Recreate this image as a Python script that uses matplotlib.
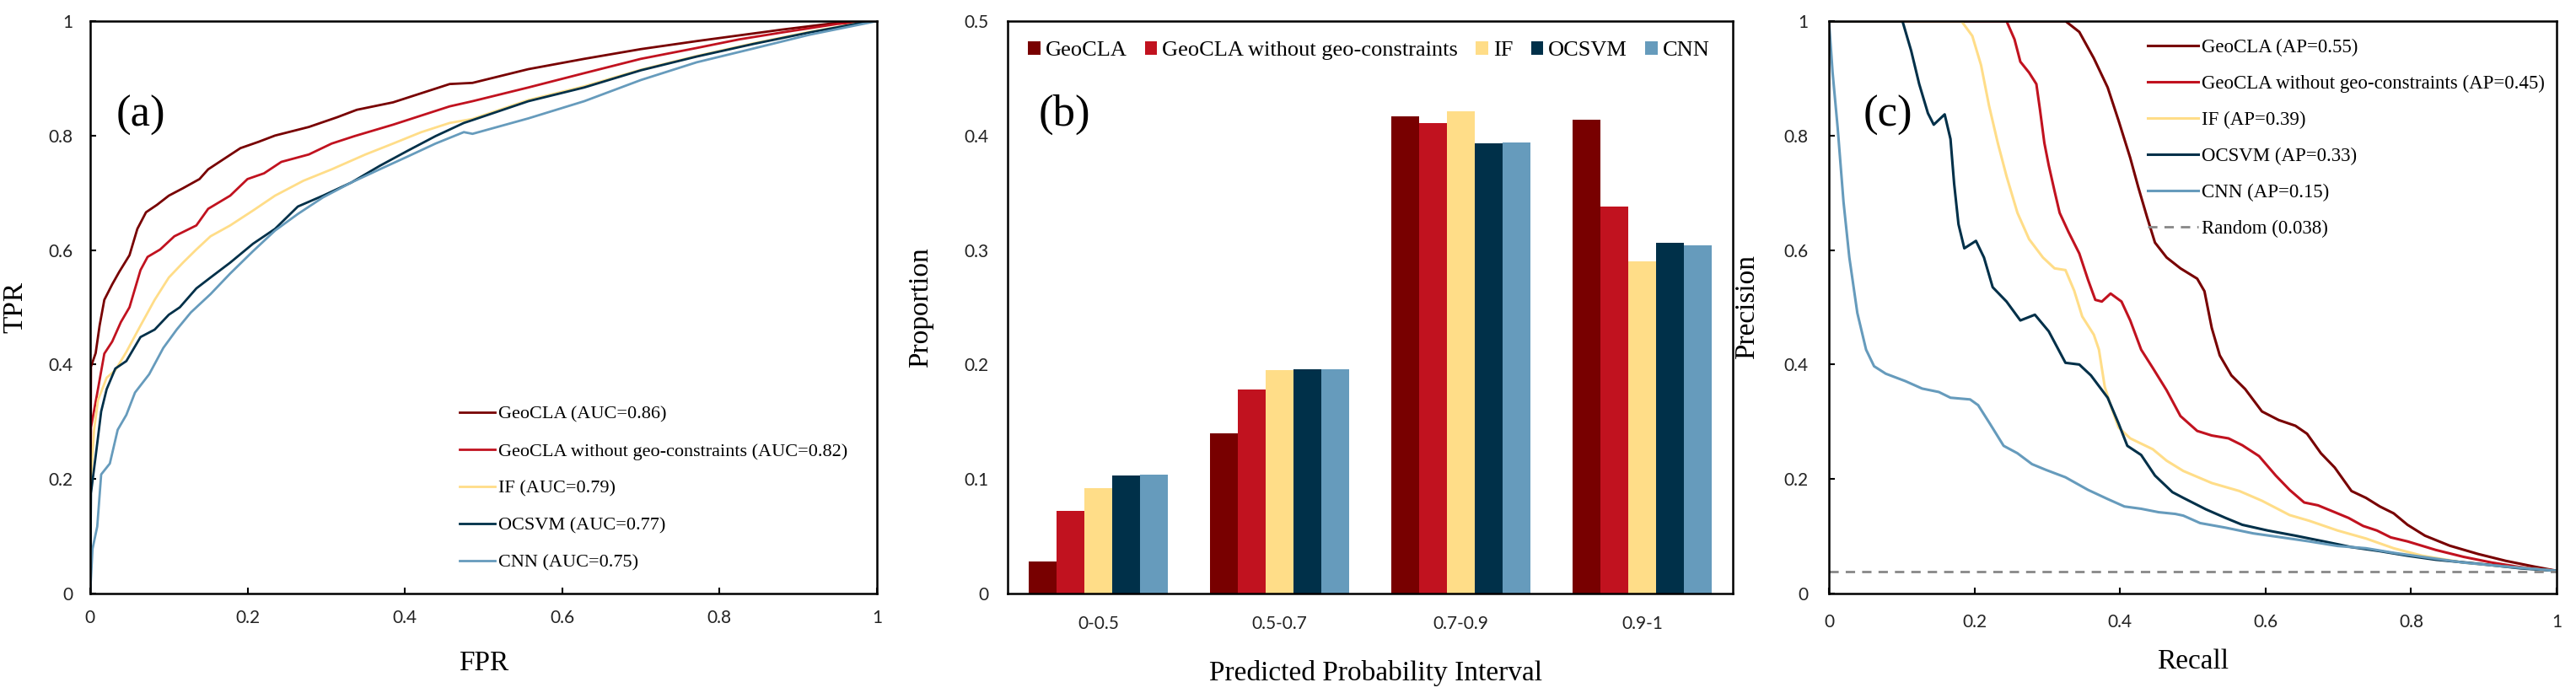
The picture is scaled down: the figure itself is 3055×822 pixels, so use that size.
#
# ROC / probability-interval / PR comparison figure
#

import numpy as np
import matplotlib
matplotlib.use("Agg")
import matplotlib.pyplot as plt

# Colours for the five models
colors = ["#780000", "#C1121F", "#FFDD88", "#003049", "#669BBC"]
models = ["GeoCLA", "GeoCLA without geo-constraints", "IF", "OCSVM", "CNN"]
auc = ["0.86", "0.82", "0.79", "0.77", "0.75"]
ap = ["0.55", "0.45", "0.39", "0.33", "0.15"]
random_ap = 0.038

# ---- (a) ROC curves ----
fpr_geocla = [0, 0.001, 0.007, 0.012, 0.018, 0.028, 0.037, 0.050, 0.060, 0.071, 0.085, 0.10, 0.118,
              0.139, 0.15, 0.171, 0.191, 0.214, 0.235, 0.278, 0.314, 0.339, 0.385, 0.421, 0.457,
              0.486, 0.557, 0.628, 0.700, 0.771, 0.825, 0.879, 0.950, 0.983, 1.0]
tpr_geocla = [0, 0.396, 0.42, 0.468, 0.513, 0.54, 0.562, 0.591, 0.637, 0.666, 0.679, 0.695, 0.708,
              0.724, 0.741, 0.760, 0.778, 0.789, 0.80, 0.815, 0.832, 0.845, 0.858, 0.874, 0.89,
              0.892, 0.916, 0.934, 0.951, 0.965, 0.975, 0.985, 0.997, 1.0, 1.0]

fpr_nogeo = [0, 0.001, 0.009, 0.018, 0.028, 0.039, 0.050, 0.064, 0.073, 0.089, 0.107, 0.135, 0.15,
             0.178, 0.2, 0.221, 0.243, 0.278, 0.307, 0.336, 0.385, 0.421, 0.457, 0.486, 0.557,
             0.628, 0.700, 0.771, 0.825, 0.879, 0.950, 1.0]
tpr_nogeo = [0, 0.29, 0.35, 0.419, 0.44, 0.474, 0.50, 0.565, 0.588, 0.601, 0.624, 0.643, 0.672,
             0.695, 0.724, 0.734, 0.754, 0.767, 0.786, 0.799, 0.819, 0.835, 0.851, 0.860, 0.884,
             0.909, 0.934, 0.953, 0.968, 0.980, 0.995, 1.0]

fpr_if = [0, 0.0, 0.005, 0.010, 0.021, 0.032, 0.046, 0.064, 0.082, 0.10, 0.118, 0.135, 0.153,
          0.178, 0.207, 0.235, 0.271, 0.307, 0.35, 0.385, 0.421, 0.457, 0.486, 0.557, 0.628,
          0.700, 0.771, 0.843, 0.914, 0.989, 1.0]
tpr_if = [0, 0.18, 0.286, 0.338, 0.377, 0.39, 0.422, 0.468, 0.513, 0.552, 0.578, 0.601, 0.624,
          0.643, 0.669, 0.695, 0.721, 0.741, 0.767, 0.786, 0.806, 0.822, 0.829, 0.862, 0.886,
          0.915, 0.939, 0.961, 0.981, 0.999, 1.0]

fpr_ocsvm = [0, 0.001, 0.007, 0.014, 0.021, 0.032, 0.046, 0.064, 0.082, 0.10, 0.114, 0.135, 0.153,
             0.178, 0.207, 0.235, 0.264, 0.296, 0.332, 0.368, 0.403, 0.439, 0.475, 0.486, 0.557,
             0.628, 0.700, 0.771, 0.843, 0.914, 0.989, 1.0]
tpr_ocsvm = [0, 0.175, 0.24, 0.318, 0.357, 0.393, 0.406, 0.448, 0.461, 0.487, 0.50, 0.533, 0.552,
             0.578, 0.611, 0.637, 0.676, 0.695, 0.718, 0.747, 0.773, 0.799, 0.822, 0.827, 0.860,
             0.884, 0.914, 0.938, 0.960, 0.980, 0.999, 1.0]

fpr_cnn = [0, 0.003, 0.009, 0.014, 0.025, 0.035, 0.046, 0.057, 0.075, 0.093, 0.110, 0.128, 0.153,
           0.178, 0.207, 0.235, 0.264, 0.296, 0.332, 0.368, 0.403, 0.439, 0.475, 0.486, 0.557,
           0.628, 0.700, 0.771, 0.843, 0.914, 0.993, 1.0]
tpr_cnn = [0, 0.078, 0.117, 0.208, 0.227, 0.286, 0.312, 0.351, 0.383, 0.429, 0.461, 0.491, 0.523,
           0.559, 0.598, 0.634, 0.663, 0.692, 0.718, 0.741, 0.763, 0.786, 0.806, 0.803, 0.830,
           0.860, 0.897, 0.928, 0.952, 0.976, 0.998, 1.0]

# ---- (b) proportion per predicted probability interval ----
intervals = ["0-0.5", "0.5-0.7", "0.7-0.9", "0.9-1"]
prop_geocla = [0.028, 0.140, 0.417, 0.414]
prop_nogeo = [0.072, 0.178, 0.411, 0.338]
prop_if = [0.092, 0.195, 0.421, 0.290]
prop_ocsvm = [0.103, 0.196, 0.393, 0.306]
prop_cnn = [0.104, 0.196, 0.394, 0.304]

# ---- (c) precision-recall curves ----
rec_geocla = [0, 0.325, 0.344, 0.364, 0.383, 0.398, 0.414, 0.425, 0.437, 0.448, 0.464, 0.483, 0.506,
              0.516, 0.526, 0.537, 0.553, 0.572, 0.595, 0.618, 0.641, 0.657, 0.676, 0.695, 0.718,
              0.738, 0.757, 0.776, 0.795, 0.819, 0.853, 0.892, 0.930, 0.969, 1.0]
pre_geocla = [1.0, 1.0, 0.981, 0.935, 0.884, 0.826, 0.761, 0.710, 0.658, 0.613, 0.587, 0.568, 0.550,
              0.528, 0.464, 0.416, 0.381, 0.357, 0.318, 0.303, 0.293, 0.279, 0.245, 0.220, 0.179,
              0.167, 0.152, 0.140, 0.120, 0.101, 0.0835, 0.069, 0.057, 0.047, 0.0396]

rec_nogeo = [0, 0.244, 0.255, 0.263, 0.275, 0.285, 0.290, 0.296, 0.302, 0.310, 0.317, 0.329, 0.344,
             0.356, 0.366, 0.375, 0.387, 0.402, 0.414, 0.429, 0.445, 0.464, 0.483, 0.506, 0.526,
             0.549, 0.568, 0.591, 0.614, 0.633, 0.653, 0.672, 0.695, 0.714, 0.734, 0.753, 0.772,
             0.795, 0.834, 0.872, 0.911, 0.950, 1.0]
pre_nogeo = [1.0, 1.0, 0.968, 0.929, 0.910, 0.890, 0.845, 0.787, 0.748, 0.703, 0.665, 0.632, 0.594,
             0.548, 0.513, 0.510, 0.524, 0.510, 0.477, 0.426, 0.394, 0.355, 0.310, 0.284, 0.276,
             0.271, 0.259, 0.240, 0.206, 0.181, 0.159, 0.154, 0.142, 0.132, 0.118, 0.110, 0.098,
             0.091, 0.076, 0.064, 0.054, 0.046, 0.0396]

rec_if = [0, 0.182, 0.197, 0.209, 0.220, 0.232, 0.244, 0.259, 0.275, 0.294, 0.310, 0.325, 0.337,
          0.348, 0.364, 0.371, 0.379, 0.387, 0.398, 0.414, 0.445, 0.464, 0.487, 0.526, 0.564,
          0.595, 0.633, 0.660, 0.699, 0.738, 0.776, 0.815, 0.872, 0.930, 1.0]
pre_if = [1.0, 1.0, 0.974, 0.923, 0.852, 0.787, 0.729, 0.665, 0.619, 0.587, 0.568, 0.565, 0.529,
          0.484, 0.452, 0.426, 0.361, 0.329, 0.290, 0.271, 0.252, 0.232, 0.214, 0.193, 0.179,
          0.162, 0.137, 0.127, 0.110, 0.096, 0.079, 0.066, 0.054, 0.047, 0.0396]

rec_ocsvm = [0, 0.101, 0.113, 0.124, 0.136, 0.144, 0.159, 0.167, 0.172, 0.178, 0.186, 0.202, 0.213,
             0.225, 0.244, 0.263, 0.283, 0.302, 0.325, 0.344, 0.360, 0.383, 0.398, 0.410, 0.429,
             0.448, 0.472, 0.487, 0.518, 0.545, 0.568, 0.603, 0.641, 0.680, 0.718, 0.757, 0.795,
             0.834, 0.892, 0.950, 1.0]
pre_ocsvm = [1.0, 1.0, 0.948, 0.890, 0.839, 0.819, 0.837, 0.794, 0.716, 0.645, 0.603, 0.616, 0.587,
             0.535, 0.510, 0.477, 0.487, 0.458, 0.403, 0.400, 0.381, 0.342, 0.297, 0.258, 0.242,
             0.206, 0.177, 0.167, 0.147, 0.132, 0.120, 0.110, 0.101, 0.091, 0.081, 0.074, 0.066,
             0.059, 0.052, 0.044, 0.0396]

rec_cnn = [0, 0.005, 0.012, 0.020, 0.028, 0.039, 0.051, 0.062, 0.078, 0.105, 0.128, 0.151, 0.167,
           0.194, 0.205, 0.221, 0.240, 0.259, 0.279, 0.298, 0.325, 0.356, 0.383, 0.406, 0.429,
           0.453, 0.476, 0.487, 0.510, 0.545, 0.583, 0.622, 0.660, 0.699, 0.738, 0.776, 0.815,
           0.872, 0.930, 1.0]
pre_cnn = [1.0, 0.910, 0.813, 0.684, 0.587, 0.490, 0.426, 0.397, 0.384, 0.371, 0.358, 0.352, 0.342,
           0.339, 0.329, 0.297, 0.258, 0.245, 0.226, 0.216, 0.203, 0.181, 0.165, 0.152, 0.148,
           0.142, 0.139, 0.136, 0.123, 0.115, 0.105, 0.098, 0.091, 0.083, 0.079, 0.071, 0.064,
           0.054, 0.047, 0.0396]

roc_x = [fpr_geocla, fpr_nogeo, fpr_if, fpr_ocsvm, fpr_cnn]
roc_y = [tpr_geocla, tpr_nogeo, tpr_if, tpr_ocsvm, tpr_cnn]
props = [prop_geocla, prop_nogeo, prop_if, prop_ocsvm, prop_cnn]
pr_x = [rec_geocla, rec_nogeo, rec_if, rec_ocsvm, rec_cnn]
pr_y = [pre_geocla, pre_nogeo, pre_if, pre_ocsvm, pre_cnn]

serif = "Liberation Serif"
sans = ["Lato", "DejaVu Sans"]
tick_fs = 15

fig = plt.figure(figsize=(30.55, 8.22), dpi=100)
ax_a = fig.add_axes([0.0350, 0.1436, 0.3054, 0.8260])
ax_b = fig.add_axes([0.3912, 0.1436, 0.2815, 0.8260])
ax_c = fig.add_axes([0.7100, 0.1436, 0.2825, 0.8260])


def style_axes(ax, xpad, ypad, ticklen):
    for sp in ax.spines.values():
        sp.set_linewidth(1.8)
        sp.set_color("black")
    ax.tick_params(direction="in", length=ticklen, width=1.5, labelsize=tick_fs)
    ax.tick_params(axis="x", pad=xpad)
    ax.tick_params(axis="y", pad=ypad)
    for lab in ax.get_xticklabels() + ax.get_yticklabels():
        lab.set_family(sans)
        lab.set_color("#222222")


ticks01 = [0, 0.2, 0.4, 0.6, 0.8, 1]
ticks01_lab = ["0", "0.2", "0.4", "0.6", "0.8", "1"]

# Plotting (a)
for i in range(5):
    ax_a.plot(roc_x[i], roc_y[i], color=colors[i], lw=2.0,
              label=models[i] + " (AUC=" + auc[i] + ")")
ax_a.set_xlim(0, 1)
ax_a.set_ylim(0, 1)
ax_a.set_xticks(ticks01, ticks01_lab)
ax_a.set_yticks(ticks01, ticks01_lab)
style_axes(ax_a, 14, 15, 5)
ax_a.set_xlabel("FPR", fontsize=24, family=serif)
ax_a.set_ylabel("TPR", fontsize=24, family=serif)
ax_a.xaxis.set_label_coords(0.5, -0.10)
ax_a.yaxis.set_label_coords(-0.079, 0.5)
ax_a.text(0.064, 0.835, "(a)", transform=ax_a.transAxes, fontsize=38, family=serif,
          ha="center", va="center")
ax_a.legend(loc="upper left", bbox_to_anchor=(0.469, 0.328), frameon=False,
            prop={"family": serif, "size": 16}, borderpad=0, borderaxespad=0,
            handlelength=1.9, handletextpad=0.2, labelspacing=1.05)

# Plotting (b)
x = np.arange(len(intervals))
bw = 0.154
for i in range(5):
    ax_b.bar(x + (i - 2) * bw, props[i], width=bw, color=colors[i], label=models[i])
ax_b.set_xlim(-0.5, 3.5)
ax_b.set_ylim(0, 0.5)
ax_b.set_xticks(x, intervals)
ax_b.set_yticks([0, 0.1, 0.2, 0.3, 0.4, 0.5], ["0", "0.1", "0.2", "0.3", "0.4", "0.5"])
style_axes(ax_b, 19, 16, 0)
ax_b.set_xlabel("Predicted Probability Interval", fontsize=24, family=serif)
ax_b.set_ylabel("Proportion", fontsize=24, family=serif)
ax_b.xaxis.set_label_coords(0.507, -0.116)
ax_b.yaxis.set_label_coords(-0.102, 0.5)
ax_b.text(0.078, 0.836, "(b)", transform=ax_b.transAxes, fontsize=38, family=serif,
          ha="center", va="center")
ax_b.legend(loc="center left", bbox_to_anchor=(0.028, 0.948), frameon=False, ncol=5,
            prop={"family": serif, "size": 19}, borderpad=0, borderaxespad=0,
            handlelength=0.55, handleheight=0.55, handletextpad=0.23, columnspacing=0.8)

# Plotting (c)
for i in range(5):
    ax_c.plot(pr_x[i], pr_y[i], color=colors[i], lw=2.2, solid_joinstyle="round",
              label=models[i] + " (AP=" + ap[i] + ")")
ax_c.axhline(random_ap, color="#888888", lw=2.0, ls=(0, (4, 3)),
             label="Random (" + str(random_ap) + ")")
ax_c.set_xlim(0, 1)
ax_c.set_ylim(0, 1)
ax_c.set_xticks(ticks01, ticks01_lab)
ax_c.set_yticks(ticks01, ticks01_lab)
style_axes(ax_c, 17, 18, 5)
ax_c.set_xlabel("Recall", fontsize=24, family=serif)
ax_c.set_ylabel("Precision", fontsize=24, family=serif)
ax_c.xaxis.set_label_coords(0.5, -0.097)
ax_c.yaxis.set_label_coords(-0.095, 0.5)
ax_c.text(0.081, 0.835, "(c)", transform=ax_c.transAxes, fontsize=38, family=serif,
          ha="center", va="center")
ax_c.legend(loc="upper left", bbox_to_anchor=(0.438, 0.969), frameon=False,
            prop={"family": serif, "size": 16.5}, borderpad=0, borderaxespad=0,
            handlelength=2.6, handletextpad=0.2, labelspacing=0.95)

plt.savefig("out.png", dpi=100)
